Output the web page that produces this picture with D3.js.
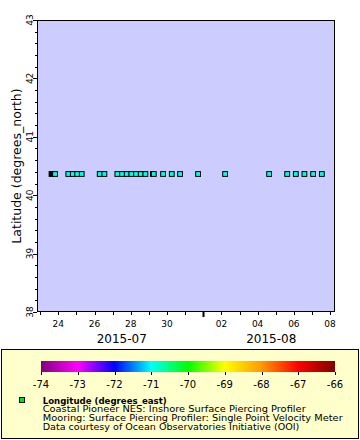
<!DOCTYPE html>
<html><head><meta charset="utf-8">
<script src="https://cdn.jsdelivr.net/npm/d3@7"></script>
<style>html,body{margin:0;padding:0;background:#fff;}svg{display:block;font-family:"DejaVu Sans",sans-serif;}</style>
</head><body>
<svg id="c" width="360" height="440"></svg>
<script>
// ---- data ----
const times = ["2015-07-23T15:00Z","2015-07-23T19:40Z","2015-07-24T13:15Z","2015-07-24T19:12Z","2015-07-25T01:00Z","2015-07-25T07:00Z",
 "2015-07-26T06:50Z","2015-07-26T13:00Z","2015-07-27T06:10Z","2015-07-27T12:25Z","2015-07-27T18:40Z","2015-07-28T00:45Z",
 "2015-07-28T07:00Z","2015-07-28T13:10Z","2015-07-28T19:20Z","2015-07-29T05:15Z","2015-07-29T06:25Z","2015-07-29T18:45Z",
 "2015-07-30T06:17Z","2015-07-30T17:17Z","2015-07-31T17:08Z","2015-08-02T04:55Z","2015-08-04T15:15Z","2015-08-05T15:10Z",
 "2015-08-06T02:35Z","2015-08-06T14:00Z","2015-08-07T01:30Z","2015-08-07T13:05Z"];
const latitudes = times.map(()=>40.363);
const longitudes = [null,-70.88,-70.88,-70.88,-70.88,-70.88,-70.88,-70.88,-70.88,-70.88,-70.88,-70.88,-70.88,-70.88,-70.88,null,
 -70.88,-70.88,-70.88,-70.88,-70.88,-70.88,-70.88,-70.88,-70.88,-70.88,-70.88,-70.88];
const yTicks = [38,39,40,41,42,43];
const colorTicks = [-74,-73,-72,-71,-70,-69,-68,-67,-66];
const paletteColors = ["#800080","#ff00ff","#0000ff","#00ffff","#00ff00","#ffff00","#ff9900","#ff0000","#800000"];
const monthLabels = [{d:"2015-07-27T12:00Z",t:"2015-07"},{d:"2015-08-04T18:00Z",t:"2015-08"}];
const legendLines = ["Coastal Pioneer NES: Inshore Surface Piercing Profiler",
 "Mooring: Surface Piercing Profiler: Single Point Velocity Meter",
 "Data courtesy of Ocean Observatories Initiative (OOI)"];
const legendTitle = "Longitude (degrees_east)";
const yTitle = "Latitude (degrees_north)";

const svg = d3.select("#c");
const P = {l:37, r:335, t:20, b:312};
const parse = d3.isoParse;
const x = d3.scaleUtc().domain([parse("2015-07-22T19:45Z"), parse("2015-08-08T06:30Z")]).range([P.l,P.r]);
const y = d3.scaleLinear().domain([38,43]).range([P.b,P.t]);
const color = d3.scaleLinear().domain(colorTicks).range(paletteColors).clamp(true);

// plot background
svg.append("rect").attr("x",P.l).attr("y",P.t).attr("width",P.r-P.l).attr("height",P.b-P.t).attr("fill","#ccccff");

// y axis
const yMinor = d3.range(38,43.001,0.2);
svg.append("g").selectAll("line").data(yMinor).join("line")
  .attr("x1",P.l).attr("x2",d=>P.l-(Math.abs(d-Math.round(d))<1e-6?4:2))
  .attr("y1",d=>Math.round(y(d))+0.5).attr("y2",d=>Math.round(y(d))+0.5).attr("stroke","#000");
svg.append("g").selectAll("text").data(yTicks).join("text")
  .attr("transform",d=>`translate(33,${y(d)}) rotate(-90)`).attr("text-anchor","middle")
  .attr("font-size",9).text(d=>d);
svg.append("text").attr("transform",`translate(21,${(P.t+P.b)/2}) rotate(-90)`).attr("text-anchor","middle")
  .attr("font-size",12.5).text(yTitle);

// x axis
const days = d3.utcDay.range(x.domain()[0], x.domain()[1]);
svg.append("g").selectAll("line").data(days).join("line")
  .attr("x1",d=>Math.round(x(d))+0.5).attr("x2",d=>Math.round(x(d))+0.5)
  .attr("y1",P.b).attr("y2",d=>P.b+(d.getUTCDate()===1?5:3))
  .attr("stroke","#000").attr("stroke-width",d=>d.getUTCDate()===1?2:1);
const labelDays = days.filter(d=>d.getUTCDate()%2===0 && d.getUTCDate()!==1);
svg.append("g").selectAll("text").data(labelDays).join("text")
  .attr("x",d=>x(d)).attr("y",327).attr("text-anchor","middle").attr("font-size",9)
  .text(d=>d3.utcFormat("%d")(d));
svg.append("g").selectAll("text").data(monthLabels).join("text")
  .attr("x",d=>x(parse(d.d))).attr("y",343).attr("text-anchor","middle").attr("font-size",12).text(d=>d.t);

// frame
svg.append("rect").attr("x",P.l+0.5).attr("y",P.t+0.5).attr("width",P.r-P.l-1).attr("height",P.b-P.t-1)
  .attr("fill","none").attr("stroke","#000");

// points
const pts = times.map((t,i)=>({t:parse(t),lat:latitudes[i],lon:longitudes[i]}));
svg.append("g").selectAll("rect").data(pts).join("rect")
  .attr("x",d=>x(d.t)-2.4).attr("y",d=>y(d.lat)-2.4).attr("width",4.8).attr("height",4.8)
  .attr("fill",d=>d.lon==null?"#000":color(d.lon)).attr("stroke","#000").attr("stroke-width",1);

// legend
svg.append("rect").attr("x",1.5).attr("y",349.5).attr("width",357).attr("height",89).attr("fill","#ffffcc").attr("stroke","#000");
const cx = d3.scaleLinear().domain([-74,-66]).range([41,335]);
const grad = svg.append("defs").append("linearGradient").attr("id","g");
colorTicks.forEach((v,i)=>grad.append("stop").attr("offset",(i/(colorTicks.length-1)*100)+"%").attr("stop-color",paletteColors[i]));
svg.append("rect").attr("x",41).attr("y",361).attr("width",294).attr("height",11).attr("fill","url(#g)");
svg.append("g").selectAll("line").data(colorTicks).join("line")
  .attr("x1",d=>Math.round(cx(d))+0.5).attr("x2",d=>Math.round(cx(d))+0.5).attr("y1",372).attr("y2",375).attr("stroke","#000");
svg.append("g").selectAll("text").data(colorTicks).join("text")
  .attr("x",d=>cx(d)).attr("y",388).attr("text-anchor","middle").attr("font-size",10).text(d=>d);
svg.append("rect").attr("x",19.5).attr("y",397.5).attr("width",5).attr("height",5).attr("fill","#00e600").attr("stroke","#000");
svg.append("text").attr("x",42.7).attr("y",403.5).attr("font-size",8.6).attr("font-weight","bold")
  .attr("textLength",124).attr("lengthAdjust","spacingAndGlyphs").text(legendTitle);
const lens=[263,300,256.6];
legendLines.forEach((s,i)=>svg.append("text").attr("x",42.7).attr("y",412.3+i*9).attr("font-size",8.3)
  .attr("textLength",lens[i]).attr("lengthAdjust","spacingAndGlyphs").text(s));
</script>
</body></html>
